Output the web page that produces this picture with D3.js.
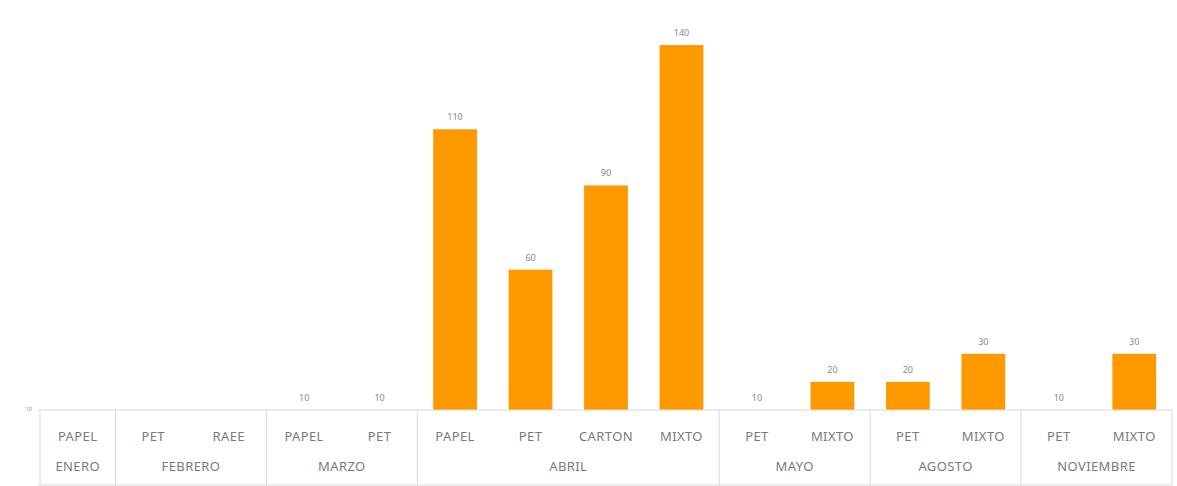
<!DOCTYPE html>
<html>
<head>
<meta charset="utf-8">
<script src="https://cdn.jsdelivr.net/npm/d3@7"></script>
<style>
  body { margin: 0; background: #fff; }
  text { font-family: "Noto Sans", "Liberation Sans", sans-serif; }
</style>
</head>
<body>
<script>
// data
const months = ["ENERO", "FEBRERO", "MARZO", "ABRIL", "MAYO", "AGOSTO", "NOVIEMBRE"];
const materials = ["PAPEL", "PET", "RAEE", "PAPEL", "PET", "PAPEL", "PET", "CARTON", "MIXTO", "PET", "MIXTO", "PET", "MIXTO", "PET", "MIXTO"];
const materialMonth = [0, 1, 1, 2, 2, 3, 3, 3, 3, 4, 4, 5, 5, 6, 6];
const values = [null, null, null, 10, 10, 110, 60, 90, 140, 10, 20, 20, 30, 10, 30];
const yTicks = [10];

const width = 1177, height = 486;
const plotLeft = 40, plotRight = 1172, base = 410, plotTop = 17;

const svg = d3.select("body").append("svg")
  .attr("width", width)
  .attr("height", height);

const x = d3.scaleBand()
  .domain(d3.range(materials.length))
  .range([plotLeft, plotRight])
  .paddingInner(0.42)
  .paddingOuter(0.21);

const y = d3.scaleLinear().domain([10, 150]).range([base, plotTop]);

// bars (axis starts at 10, so 10 gives no bar)
svg.append("g").selectAll("rect")
  .data(values.map((v, i) => ({ v, i })).filter(d => d.v != null))
  .enter()
  .append("rect")
  .attr("x", d => x(d.i))
  .attr("y", d => y(d.v))
  .attr("width", x.bandwidth())
  .attr("height", d => base - y(d.v))
  .attr("fill", "#ff9900");

// value labels
svg.append("g").selectAll("text")
  .data(values.map((v, i) => ({ v, i })).filter(d => d.v != null))
  .enter()
  .append("text")
  .attr("x", d => x(d.i) + x.bandwidth() / 2)
  .attr("y", d => y(d.v) - 9)
  .attr("text-anchor", "middle")
  .attr("font-size", "9px")
  .attr("fill", "#8a8a8a")
  .text(d => d.v);

// y tick label
svg.append("g").selectAll("text")
  .data(yTicks)
  .enter()
  .append("text")
  .attr("x", 32)
  .attr("y", d => y(d) + 1)
  .attr("text-anchor", "end")
  .attr("font-size", "6px")
  .attr("fill", "#8c8c8c")
  .text(d => d);

// category axis
const step = x.step();
const lineColor = "#d9d9d9";
svg.append("line")
  .attr("x1", plotLeft - 2).attr("x2", plotRight)
  .attr("y1", base).attr("y2", base)
  .attr("stroke", lineColor);
svg.append("line")
  .attr("x1", plotLeft - 2).attr("x2", plotRight)
  .attr("y1", 485).attr("y2", 485)
  .attr("stroke", lineColor);

// group separators
const groups = months.map((m, mi) => {
  const idx = materialMonth.map((g, i) => g === mi ? i : -1).filter(i => i >= 0);
  const x0 = x(idx[0]) - step * x.paddingInner() / 2;
  const x1 = x(idx[idx.length - 1]) + x.bandwidth() + step * x.paddingInner() / 2;
  return { m, x0, x1 };
});
const seps = [groups[0].x0].concat(groups.map(g => g.x1));
svg.append("g").selectAll("line")
  .data(seps)
  .enter()
  .append("line")
  .attr("x1", d => d).attr("x2", d => d)
  .attr("y1", base).attr("y2", 485)
  .attr("stroke", lineColor);

svg.append("g").selectAll("text")
  .data(materials)
  .enter()
  .append("text")
  .attr("x", (d, i) => x(i) + x.bandwidth() / 2)
  .attr("y", 441)
  .attr("text-anchor", "middle")
  .attr("font-size", "13px")
  .attr("letter-spacing", "0.4px")
  .attr("fill", "#7a7a7a")
  .text(d => d);

svg.append("g").selectAll("text")
  .data(groups)
  .enter()
  .append("text")
  .attr("x", d => (d.x0 + d.x1) / 2)
  .attr("y", 471)
  .attr("text-anchor", "middle")
  .attr("font-size", "13px")
  .attr("letter-spacing", "0.4px")
  .attr("fill", "#7a7a7a")
  .text(d => d.m);
</script>
</body>
</html>
